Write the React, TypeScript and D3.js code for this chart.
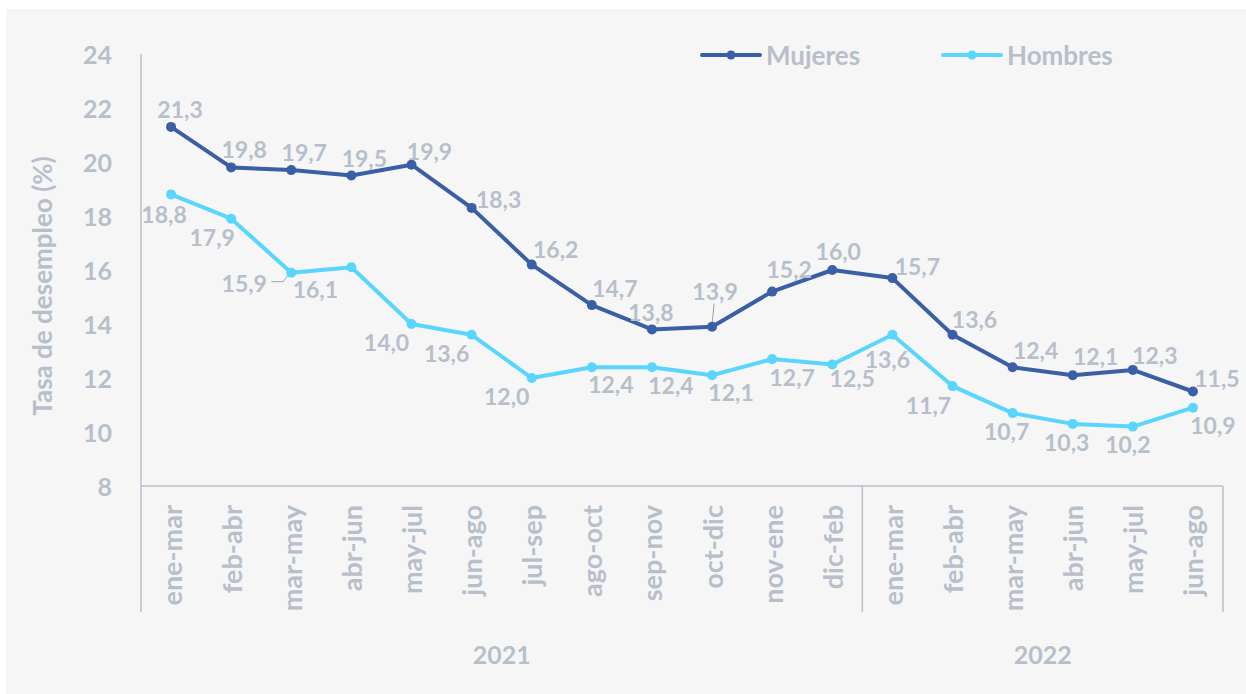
import * as d3 from 'd3';
import { useEffect, useRef } from 'react';

// Periodos (trimestres móviles)
const periods = [
  'ene-mar', 'feb-abr', 'mar-may', 'abr-jun', 'may-jul', 'jun-ago', 'jul-sep', 'ago-oct', 'sep-nov',
  'oct-dic', 'nov-ene', 'dic-feb', 'ene-mar', 'feb-abr', 'mar-may', 'abr-jun', 'may-jul', 'jun-ago'
];
const years = [
  { label: '2021', from: 0, to: 12 },
  { label: '2022', from: 12, to: 18 }
];
const mujeres = [21.3, 19.8, 19.7, 19.5, 19.9, 18.3, 16.2, 14.7, 13.8, 13.9, 15.2, 16.0, 15.7, 13.6, 12.4, 12.1, 12.3, 11.5];
const hombres = [18.8, 17.9, 15.9, 16.1, 14.0, 13.6, 12.0, 12.4, 12.4, 12.1, 12.7, 12.5, 13.6, 11.7, 10.7, 10.3, 10.2, 10.9];
const yTicks = [8, 10, 12, 14, 16, 18, 20, 22, 24];

// label offsets (px) relative to each point, to avoid overlaps
const mujeresLabelPos = [
  [9, -18], [13, -18], [13, -18], [13, -18], [18, -14], [27, -9], [24, -16], [23, -17], [-1, -17],
  [3, -36], [17, -23], [6, -19], [25, -12], [22, -16], [23, -17], [23, -19], [22, -15], [24, -14]
];
const hombresLabelPos = [
  [-7, 20], [-19, 18], [-47, 10], [-36, 22], [-25, 18], [-25, 18], [-25, 18], [19, 17], [19, 18],
  [19, 17], [20, 18], [20, 13], [-5, 24], [-24, 19], [-6, 18], [-6, 18], [-5, 17], [20, 17]
];

const C_MUJ = '#3a5fa6';
const C_HOM = '#5ad5fd';
const C_TXT = '#b7bfcb';
const C_AX = '#b9c1cd';
const FONT = 'Lato, "Open Sans", sans-serif';
const fmt = (v: number) => d3.format('.1f')(v).replace('.', ',');

export default function App() {
  const ref = useRef<SVGSVGElement>(null);

  useEffect(() => {
    const svg = d3.select(ref.current);
    svg.selectAll('*').remove();

    const left = 141, right = 1223, top = 54, bottom = 486, axisEnd = 612;

    svg.append('rect').attr('x', 6).attr('y', 9).attr('width', 1240).attr('height', 685).attr('fill', '#f6f6f6');

    const x = d3.scaleBand<number>().domain(d3.range(periods.length)).range([left, right]);
    const cx = (i: number) => x(i)! + x.bandwidth() / 2;
    const y = d3.scaleLinear().domain([8, 24]).range([bottom, top]);

    const g = svg.append('g').attr('font-family', FONT).attr('font-weight', 700);

    // axes lines
    g.append('line').attr('x1', left).attr('x2', left).attr('y1', top).attr('y2', axisEnd).attr('stroke', C_AX).attr('stroke-width', 1.5);
    g.append('line').attr('x1', left).attr('x2', right).attr('y1', bottom).attr('y2', bottom).attr('stroke', C_AX).attr('stroke-width', 1.5);
    years.forEach(yr => {
      const xe = x(yr.to - 1)! + x.bandwidth();
      g.append('line').attr('x1', xe).attr('x2', xe).attr('y1', bottom).attr('y2', axisEnd).attr('stroke', C_AX).attr('stroke-width', 1.5);
      const xs = x(yr.from)!;
      g.append('text').attr('x', (xs + xe) / 2).attr('y', 654).attr('text-anchor', 'middle')
        .attr('dominant-baseline', 'central').attr('fill', C_TXT).attr('font-size', 25).text(yr.label);
    });

    // y ticks
    g.selectAll('.yt').data(yTicks).enter().append('text')
      .attr('x', 112).attr('y', d => y(d)).attr('text-anchor', 'end').attr('dominant-baseline', 'central')
      .attr('fill', C_TXT).attr('font-size', 25).text(d => d);

    // y title
    g.append('text').attr('transform', 'translate(42,286) rotate(-90)').attr('text-anchor', 'middle')
      .attr('dominant-baseline', 'central').attr('fill', C_TXT).attr('font-size', 26).text('Tasa de desempleo (%)');

    // category labels
    g.selectAll('.cat').data(periods).enter().append('text')
      .attr('transform', (d, i) => `translate(${cx(i)},505) rotate(-90)`)
      .attr('text-anchor', 'end').attr('dominant-baseline', 'central')
      .attr('fill', C_TXT).attr('font-size', 27).text(d => d);

    // leader lines
    g.append('path').attr('d', `M${cx(2) - 20},${y(hombres[2]) + 9}h12l5,-7`).attr('fill', 'none').attr('stroke', '#9aa3ae').attr('stroke-width', 1);
    g.append('path').attr('d', `M${cx(9)},${y(mujeres[9]) - 2}L${cx(9) + 2},${y(mujeres[9]) - 23}`).attr('fill', 'none').attr('stroke', '#9aa3ae').attr('stroke-width', 1);

    const series = [
      { vals: mujeres, color: C_MUJ, pos: mujeresLabelPos },
      { vals: hombres, color: C_HOM, pos: hombresLabelPos }
    ];
    const line = d3.line<number>().x((d, i) => cx(i)).y(d => y(d));
    series.forEach(s => {
      g.append('path').attr('d', line(s.vals)).attr('fill', 'none').attr('stroke', s.color)
        .attr('stroke-width', 4).attr('stroke-linejoin', 'round');
      g.selectAll(null).data(s.vals).enter().append('circle')
        .attr('cx', (d, i) => cx(i)).attr('cy', d => y(d)).attr('r', 5).attr('fill', s.color);
      g.selectAll(null).data(s.vals).enter().append('text')
        .attr('x', (d, i) => cx(i) + s.pos[i][0]).attr('y', (d, i) => y(d) + s.pos[i][1])
        .attr('text-anchor', 'middle').attr('dominant-baseline', 'central')
        .attr('fill', C_TXT).attr('font-size', 23).text(d => fmt(d));
    });

    // legend
    const legend = [
      { label: 'Mujeres', color: C_MUJ, x0: 702 },
      { label: 'Hombres', color: C_HOM, x0: 943 }
    ];
    legend.forEach(l => {
      g.append('line').attr('x1', l.x0).attr('x2', l.x0 + 58).attr('y1', 55).attr('y2', 55)
        .attr('stroke', l.color).attr('stroke-width', 4).attr('stroke-linecap', 'round');
      g.append('circle').attr('cx', l.x0 + 29).attr('cy', 55).attr('r', 4.5).attr('fill', l.color);
      g.append('text').attr('x', l.x0 + 64).attr('y', 55).attr('dominant-baseline', 'central')
        .attr('fill', C_TXT).attr('font-size', 26).text(l.label);
    });
  }, []);

  return (
    <svg ref={ref} width={1246} height={694} style={{ position: 'absolute', left: 0, top: 0, display: 'block', background: '#fff' }} />
  );
}
